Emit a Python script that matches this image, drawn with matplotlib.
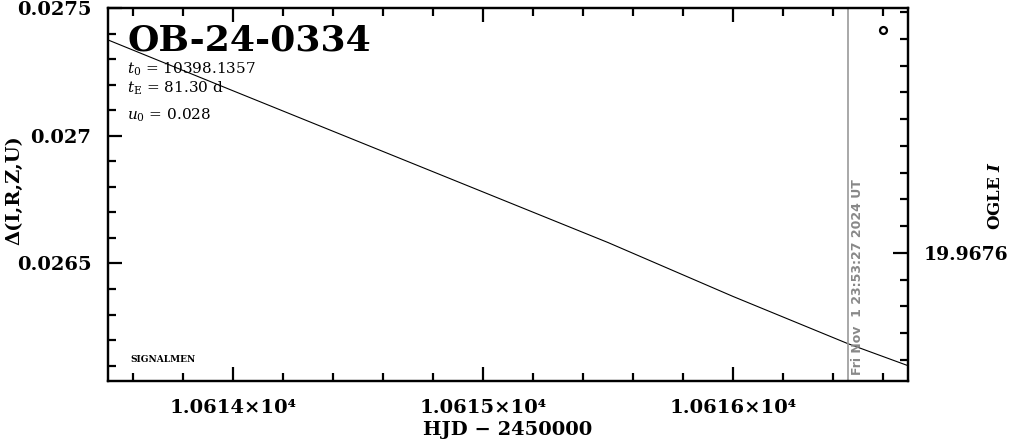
import matplotlib
matplotlib.use('Agg')
import matplotlib.pyplot as plt
from matplotlib.ticker import MultipleLocator, FixedLocator, FixedFormatter

# ---- data ----
hjd_model = [10613.5, 10614.0, 10614.5, 10615.0, 10615.5, 10616.0, 10616.46, 10616.7]
delta_model = [0.027375, 0.027176, 0.026978, 0.026780, 0.026582, 0.026371, 0.026186, 0.026100]
hjd_obs = [10616.6]
delta_obs = [0.027414]
now_hjd = 10616.46
now_label = "Fri Nov  1 23:53:27 2024 UT"
event_name = "OB-24-0334"
param_lines = [r"$t_0$ = 10398.1357", r"$t_{\rm E}$ = 81.30 d", r"$u_0$ = 0.028"]
x_ticks = [10614, 10615, 10616]
x_tick_labels = ["1.0614×10⁴", "1.0615×10⁴", "1.0616×10⁴"]
y_ticks = [0.0265, 0.027, 0.0275]
y_tick_labels = ["0.0265", "0.027", "0.0275"]
right_ticks = [19.9676]
right_tick_labels = ["19.9676"]
x_range = (10613.5, 10616.7)
y_range = (0.02604, 0.0275)
right_range = (19.967121, 19.968516)

plt.rcParams['font.family'] = ['DejaVu Serif']
plt.rcParams['mathtext.fontset'] = 'dejavuserif'

fig = plt.figure(figsize=(10.11, 4.40), dpi=100)
ax = fig.add_axes([108/1011, 1 - 381/440, 800/1011, 373/440])

ax.plot(hjd_model, delta_model, color='black', lw=0.8)
ax.plot(hjd_obs, delta_obs, 'o', ms=5, mfc='white', mec='black', mew=1.6)
ax.axvline(now_hjd, color='#999999', lw=1.2)

ax.set_xlim(*x_range)
ax.set_ylim(*y_range)

ax.xaxis.set_major_locator(FixedLocator(x_ticks))
ax.xaxis.set_major_formatter(FixedFormatter(x_tick_labels))
ax.xaxis.set_minor_locator(MultipleLocator(0.2))
ax.yaxis.set_major_locator(FixedLocator(y_ticks))
ax.yaxis.set_major_formatter(FixedFormatter(y_tick_labels))
ax.yaxis.set_minor_locator(MultipleLocator(0.0001))

for s in ax.spines.values():
    s.set_linewidth(1.6)

ax.tick_params(which='both', direction='in', top=True, right=False, width=1.6)
ax.tick_params(which='major', length=10)
ax.tick_params(which='minor', length=5.5)
ax.tick_params(axis='x', which='major', pad=13, labelsize=14)
ax.tick_params(axis='y', which='major', pad=12, labelsize=14)
for lab in ax.get_xticklabels() + ax.get_yticklabels():
    lab.set_fontweight('bold')

ax.set_xlabel("HJD − 2450000", fontsize=14, fontweight='bold')
ax.xaxis.set_label_coords(0.5, -(430 - 381) / 373, transform=ax.transAxes)
ax.xaxis.label.set_va('center')
ax.set_ylabel("Δ(I,R,Z,U)", fontsize=14, fontweight='bold')
ax.yaxis.set_label_coords(-(108 - 14) / 800, (381 - 190) / 373)
ax.yaxis.label.set_va('center')

# right axis
ax2 = ax.twinx()
ax2.set_ylim(*right_range)
ax2.yaxis.set_major_locator(FixedLocator(right_ticks))
ax2.yaxis.set_major_formatter(FixedFormatter(right_tick_labels))
ax2.yaxis.set_minor_locator(MultipleLocator(0.0001))
ax2.tick_params(which='both', direction='in', width=1.6)
ax2.tick_params(which='major', length=11, pad=11, labelsize=13.5)
ax2.tick_params(which='minor', length=5.5)
for lab in ax2.get_yticklabels():
    lab.set_fontweight('bold')
for s in ax2.spines.values():
    s.set_linewidth(1.6)
ax2.set_ylabel(r"OGLE $\mathbfit{I}$", fontsize=12, fontweight='bold', rotation=90)
ax2.yaxis.set_label_coords((995 - 108) / 800, (381 - 195) / 373)
ax2.yaxis.label.set_va('center')
ax2.yaxis.label.set_ha('center')

# annotations
ax.text(0.024, 0.887, event_name, transform=ax.transAxes, fontsize=26,
        fontweight='bold', va='baseline', ha='left')
for yb, line in zip([0.823, 0.772, 0.702], param_lines):
    ax.text(0.024, yb, line, transform=ax.transAxes, fontsize=11,
            va='baseline', ha='left')
ax.text(0.0275, 0.051, "SIGNALMEN", transform=ax.transAxes, fontsize=6.5,
        fontweight='bold', va='baseline', ha='left')
ax.annotate(now_label, xy=(now_hjd, 0.016), xycoords=('data', 'axes fraction'),
            xytext=(10, 0), textcoords='offset pixels', rotation=90,
            ha='center', va='bottom', color='#888888', fontsize=9,
            fontweight='bold', family='DejaVu Sans')

fig.savefig('out.png', dpi=100)
